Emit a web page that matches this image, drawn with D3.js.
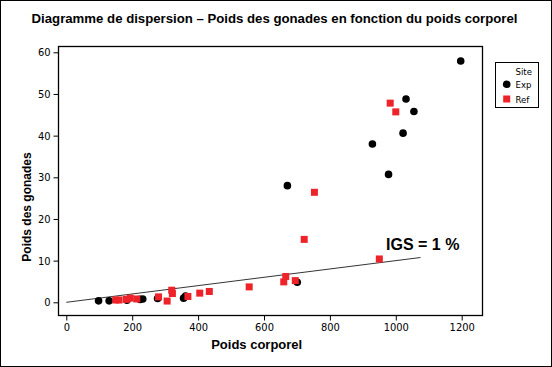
<!DOCTYPE html>
<html><head><meta charset="utf-8">
<script src="https://cdn.jsdelivr.net/npm/d3@7"></script>
<style>body{margin:0;background:#fff}svg{display:block}</style>
</head><body>
<script>
const title = "Diagramme de dispersion – Poids des gonades en fonction du poids corporel";
const xLabel = "Poids corporel";
const yLabel = "Poids des gonades";
const xTicks = [0, 200, 400, 600, 800, 1000, 1200];
const yTicks = [0, 10, 20, 30, 40, 50, 60];
const seriesNames = ["Exp", "Ref"];
// Exp series (black circles)
const expX = [1197, 1031, 1055, 1022, 929, 978, 671, 701, 98, 130, 184, 224, 232, 277, 356, 362];
const expY = [57.9, 48.8, 45.8, 40.6, 38.0, 30.7, 28.0, 4.8, 0.35, 0.35, 0.5, 0.7, 0.8, 0.9, 1.0, 1.5];
// Ref series (red squares)
const refX = [983, 1000, 753, 722, 950, 666, 660, 695, 555, 434, 405, 369, 320, 322, 306, 280, 150, 160, 182, 194, 214];
const refY = [47.8, 45.7, 26.4, 15.1, 10.4, 6.2, 4.9, 5.2, 3.7, 2.6, 2.2, 1.4, 2.9, 2.1, 0.3, 1.3, 0.55, 0.55, 0.7, 1.0, 0.8];
// IGS = 1 % reference line
const lineX = [0, 1075];
const igsRate = 0.01;
const lineLabel = "IGS = 1 %";

const W = 552, H = 367;
const svg = d3.select("body").append("svg").attr("width", W).attr("height", H);
svg.append("rect").attr("x", 0.5).attr("y", 0.5).attr("width", W - 1).attr("height", H - 1)
  .attr("fill", "#fff").attr("stroke", "#000").attr("stroke-width", 1);

const frame = {l: 58.5, r: 482.5, t: 46.5, b: 315.5};
const x = d3.scaleLinear().domain([0, 1200]).range([66.3, 461.7]);
const y = d3.scaleLinear().domain([0, 60]).range([302.3, 52.3]);

svg.append("rect").attr("x", frame.l).attr("y", frame.t)
  .attr("width", frame.r - frame.l).attr("height", frame.b - frame.t)
  .attr("fill", "none").attr("stroke", "#000").attr("stroke-width", 1.3);

const tickFont = "'DejaVu Sans Condensed', 'Liberation Sans', sans-serif";
const xAxis = svg.append("g").attr("transform", `translate(0,${frame.b})`)
  .call(d3.axisBottom(x).tickValues(xTicks).tickFormat(d3.format("d")).tickSize(5).tickSizeOuter(0).tickPadding(3));
xAxis.select(".domain").remove();
xAxis.selectAll("text").attr("font-family", tickFont).attr("font-size", 11).attr("fill", "#000");
xAxis.selectAll("line").attr("stroke", "#000");

const yAxis = svg.append("g").attr("transform", `translate(${frame.l},0)`)
  .call(d3.axisLeft(y).tickValues(yTicks).tickFormat(d3.format("d")).tickSize(5).tickSizeOuter(0).tickPadding(3));
yAxis.select(".domain").remove();
yAxis.selectAll("text").attr("font-family", tickFont).attr("font-size", 11).attr("fill", "#000");
yAxis.selectAll("line").attr("stroke", "#000");

// reference line
svg.append("line")
  .attr("x1", x(lineX[0])).attr("y1", y(lineX[0] * igsRate))
  .attr("x2", x(lineX[1])).attr("y2", y(lineX[1] * igsRate))
  .attr("stroke", "#000").attr("stroke-width", 0.8);
svg.append("text").attr("x", 386).attr("y", 250)
  .attr("font-family", "'Liberation Sans', Arial, sans-serif").attr("font-weight", "bold")
  .attr("font-size", 16).text(lineLabel);

// points
const exp = expX.map((v, i) => ({x: v, y: expY[i]}));
const ref = refX.map((v, i) => ({x: v, y: refY[i]}));
svg.append("g").selectAll("circle").data(exp).join("circle")
  .attr("cx", d => x(d.x)).attr("cy", d => y(d.y)).attr("r", 3.8).attr("fill", "#000");
const sq = 7;
svg.append("g").selectAll("rect").data(ref).join("rect")
  .attr("x", d => x(d.x) - sq / 2).attr("y", d => y(d.y) - sq / 2)
  .attr("width", sq).attr("height", sq).attr("fill", "#ee2229");

// titles
const lab = "'Liberation Sans', Arial, sans-serif";
svg.append("text").attr("x", 274.5).attr("y", 23).attr("text-anchor", "middle")
  .attr("font-family", lab).attr("font-weight", "bold").attr("font-size", 13.2).text(title);
svg.append("text").attr("x", 256.7).attr("y", 349).attr("text-anchor", "middle")
  .attr("font-family", lab).attr("font-weight", "bold").attr("font-size", 13).text(xLabel);
svg.append("text").attr("transform", "translate(31,207) rotate(-90)").attr("text-anchor", "middle")
  .attr("font-family", lab).attr("font-weight", "bold").attr("font-size", 12).text(yLabel);

// legend
const lg = svg.append("g");
lg.append("rect").attr("x", 495.5).attr("y", 62.5).attr("width", 43).attr("height", 45)
  .attr("fill", "#fff").attr("stroke", "#000").attr("stroke-width", 1);
lg.append("text").attr("x", 515.5).attr("y", 75).attr("font-family", tickFont)
  .attr("font-size", 9.5).text("Site");
lg.append("circle").attr("cx", 506.7).attr("cy", 84.3).attr("r", 3.8).attr("fill", "#000");
lg.append("text").attr("x", 515.5).attr("y", 88).attr("font-family", tickFont)
  .attr("font-size", 9.5).text(seriesNames[0]);
lg.append("rect").attr("x", 506.7 - sq / 2).attr("y", 99 - sq / 2).attr("width", sq).attr("height", sq)
  .attr("fill", "#ee2229");
lg.append("text").attr("x", 515.5).attr("y", 102.5).attr("font-family", tickFont)
  .attr("font-size", 9.5).text(seriesNames[1]);
</script>
</body></html>
